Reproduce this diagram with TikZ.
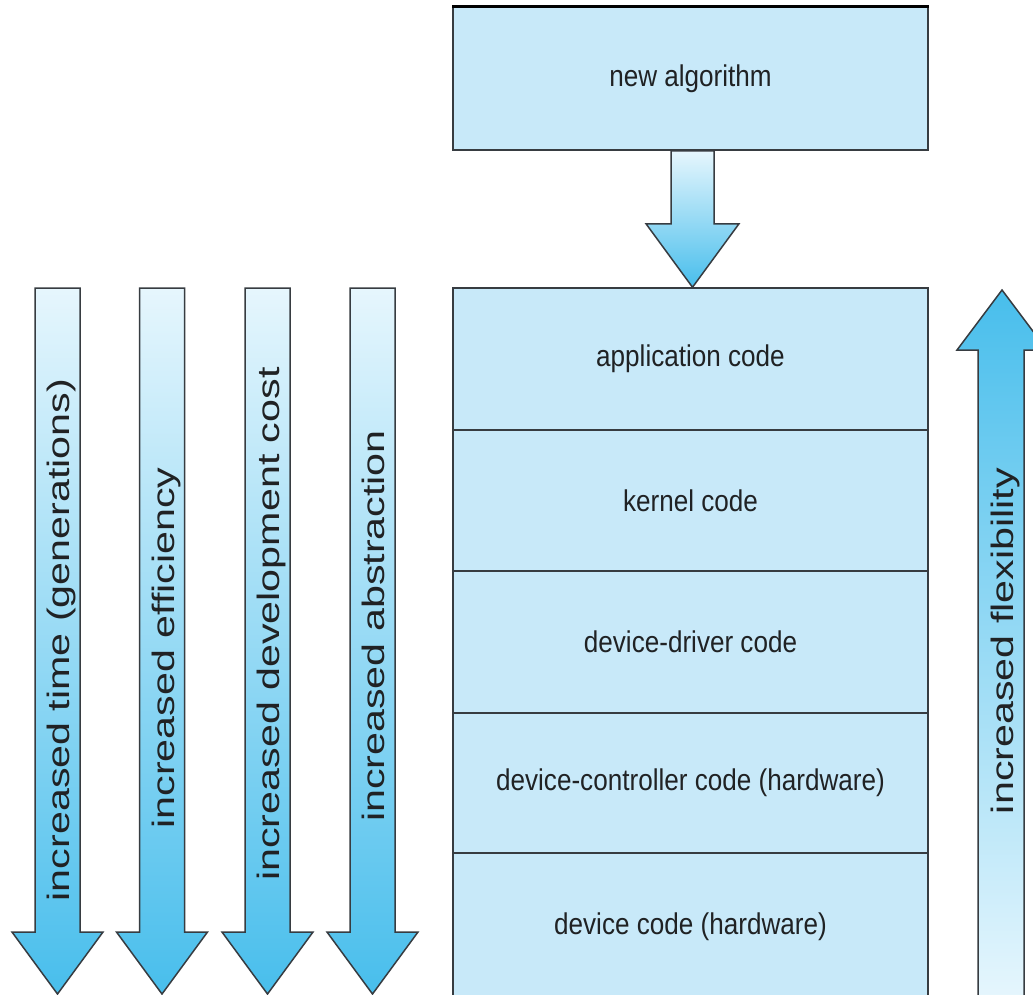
\documentclass[tikz,border=0pt]{standalone}
\usepackage{fontspec}
\setmainfont{Liberation Sans}
\newfontfamily\boxfont[FakeStretch=0.87]{Liberation Sans}
\newfontfamily\arrfont[FakeStretch=1.33]{Liberation Sans}
\usetikzlibrary{calc}
\definecolor{boxfill}{RGB}{200,233,249}
\definecolor{arrlight}{RGB}{230,246,253}
\definecolor{arrdark}{RGB}{72,190,236}
\definecolor{edge}{RGB}{55,60,65}
\definecolor{ink}{RGB}{32,34,36}
\begin{document}
\begin{tikzpicture}[x=1pt,y=-1pt,
  layer/.style={draw=edge, line width=1.5pt, fill=boxfill, minimum width=475pt,
    inner sep=0pt, font=\boxfont\fontsize{30}{35}\selectfont, text=ink},
  arrowbody/.style={draw=edge, line width=1.5pt, line join=miter, top color=arrlight, bottom color=arrdark},
  uparrowbody/.style={draw=edge, line width=1.5pt, line join=miter, top color=arrdark, bottom color=arrlight},
  arrowtext/.style={rotate=90, anchor=base, inner sep=0pt,
    font=\arrfont\fontsize{31}{36}\selectfont, text=ink}]
\useasboundingbox (0,0) rectangle (1033,994);
\clip (0,0) rectangle (1033,994);
\fill[white] (0,0) rectangle (1033,994);

% layers
\node[layer, minimum height=143pt] (alg)  at (690.5,78.5)  {new algorithm};
\node[layer, minimum height=142pt] (app)  at (690.5,359)   {application code};
\node[layer, minimum height=141pt] (kern) at (690.5,500.5) {kernel code};
\node[layer, minimum height=142pt] (drv)  at (690.5,642)   {device-driver code};
\node[layer, minimum height=140pt] (ctl)  at (690.5,783)   {device-controller code (hardware)};
\node[layer, minimum height=147pt] (dev)  at (690.5,926.5) {device code (hardware)};
\draw[line width=2.6pt, black] (alg.north west) -- (alg.north east);

% arrow from new algorithm to the stack
\path[arrowbody] ($(alg.south)+(-19.5,0)$) -- ($(alg.south)+(23.5,0)$)
  -- ($(alg.south)+(23.5,73)$) -- ($(alg.south)+(48.5,73)$)
  -- ($(app.north)+(2,0)$)
  -- ($(alg.south)+(-44.5,73)$) -- ($(alg.south)+(-19.5,73)$) -- cycle;

% downward arrows on the left
\foreach \cx in {57.5,162,267.5,372.5}{
  \path[arrowbody] (\cx-22.5,288) -- (\cx+22.5,288) -- (\cx+22.5,932)
    -- (\cx+45.5,932) -- (\cx,994) -- (\cx-45.5,932) -- (\cx-22.5,932) -- cycle;
}
\node[arrowtext] (t1) at (69.5,640)  {increased time (generations)};
\node[arrowtext] (t2) at (174,648)   {increased efficiency};
\node[arrowtext] (t3) at (279.5,624) {increased development cost};
\node[arrowtext] (t4) at (384.5,626) {increased abstraction};

% upward arrow on the right
\path[uparrowbody] (978,1000) -- (978,350) -- (957,350) -- (1002,290)
  -- (1047,350) -- (1024,350) -- (1024,1000) -- cycle;
\node[arrowtext] (t5) at (1013,641) {increased flexibility};
\end{tikzpicture}
\end{document}
